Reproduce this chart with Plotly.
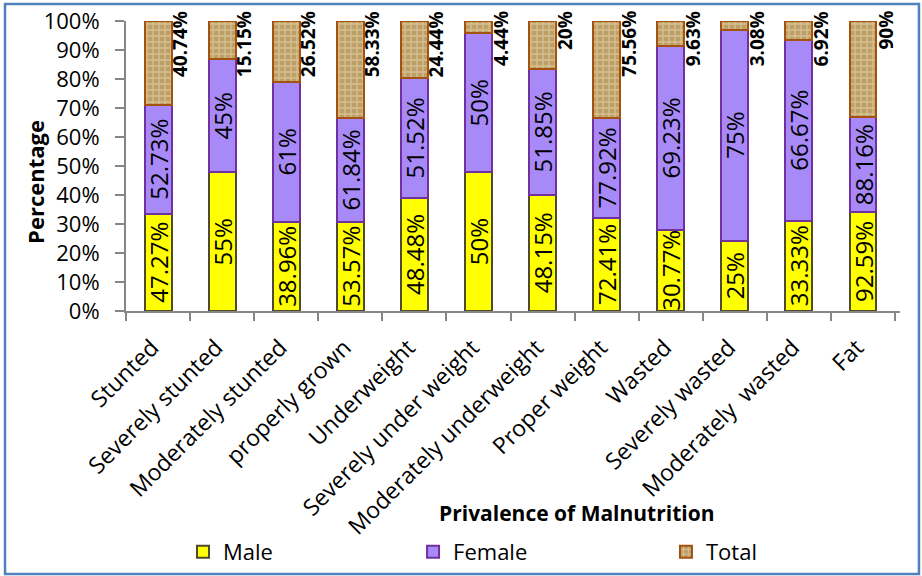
import plotly.graph_objects as go

categories = ["Stunted", "Severely stunted", "Moderately stunted", "properly grown",
              "Underweight", "Severely under weight", "Moderately underweight",
              "Proper weight", "Wasted", "Severely wasted", "Moderately  wasted", "Fat"]
male = [47.27, 55, 38.96, 53.57, 48.48, 50, 48.15, 72.41, 30.77, 25, 33.33, 92.59]
female = [52.73, 45, 61, 61.84, 51.52, 50, 51.85, 77.92, 69.23, 75, 66.67, 88.16]
total = [40.74, 15.15, 26.52, 58.33, 24.44, 4.44, 20, 75.56, 9.63, 3.08, 6.92, 90]

FONT = "Open Sans"

def fmt(v):
    return f"{v:g}%"

fig = go.Figure()
fig.add_trace(go.Bar(
    name="Male", x=categories, y=male, legend="legend",
    text=[fmt(v) for v in male], textposition="inside", insidetextanchor="middle",
    textangle=-90, constraintext="none",
    textfont=dict(family=FONT, size=24, color="black"),
    marker=dict(color="#FFFF00", line=dict(color="#4f4a2a", width=2)),
))
fig.add_trace(go.Bar(
    name="Female", x=categories, y=female, legend="legend2",
    text=[fmt(v) for v in female], textposition="inside", insidetextanchor="middle",
    textangle=-90, constraintext="none",
    textfont=dict(family=FONT, size=24, color="black"),
    marker=dict(color="#a889f8", line=dict(color="#7030a0", width=2)),
))
fig.add_trace(go.Bar(
    name="Total", x=categories, y=total, legend="legend3",
    textposition="none",
    marker=dict(color="#c4a66f", line=dict(color="#a3520f", width=2),
                pattern=dict(shape="+", fgcolor="#eedfb6", bgcolor="#bd9f68",
                             size=6, solidity=0.4)),
))

annotations = []
for c, v in zip(categories, total):
    annotations.append(dict(
        x=c, y=100, xref="x", yref="y", text=f"<b>{fmt(v)}</b>",
        textangle=-90, xanchor="left", yanchor="top", xshift=7, yshift=12,
        showarrow=False, font=dict(family=FONT, size=19, color="black")))

annotations.append(dict(
    x=-0.1176, y=0.445, xref="paper", yref="paper", text="<b>Percentage</b>",
    textangle=-90, showarrow=False, xanchor="center", yanchor="middle",
    font=dict(family=FONT, size=22, color="black")))
annotations.append(dict(
    x=0.583, y=-0.697, xref="paper", yref="paper", text="<b>Privalence of Malnutrition</b>",
    showarrow=False, xanchor="center", yanchor="middle",
    font=dict(family=FONT, size=21, color="black")))

def leg(x):
    return dict(orientation="h", xref="container", yref="container",
                x=x, y=0.0417, xanchor="left", yanchor="middle",
                font=dict(family=FONT, size=22), bgcolor="rgba(0,0,0,0)")

fig.update_layout(
    barmode="stack", barnorm="percent", bargap=0.58,
    width=922, height=576,
    margin=dict(l=126, r=22, t=21, b=265, autoexpand=False),
    paper_bgcolor="white", plot_bgcolor="white",
    font=dict(family=FONT, size=20, color="black"),
    showlegend=True,
    legend=leg(0.1985), legend2=leg(0.448), legend3=leg(0.7223),
    annotations=annotations,
    shapes=[dict(type="rect", xref="paper", yref="paper",
                 x0=-0.1563, x1=1.0245, y0=-0.9069, y1=1.0586,
                 line=dict(color="#4f81bd", width=2.5), fillcolor="rgba(0,0,0,0)")],
)
fig.update_yaxes(range=[0, 100], dtick=10, ticksuffix="%", showgrid=False,
                 showline=True, linecolor="#868686", linewidth=2,
                 ticks="outside", ticklen=9, tickcolor="#868686", tickwidth=2,
                 ticklabelstandoff=11,
                 tickfont=dict(family=FONT, size=22), zeroline=False, automargin=False)
fig.update_xaxes(tickangle=-45, tickson="boundaries", ticks="outside", ticklen=8,
                 tickcolor="#868686", tickwidth=2, showline=True, linecolor="#868686",
                 linewidth=2, ticklabelstandoff=12, ticklabelshift=-6,
                 tickfont=dict(family=FONT, size=23), automargin=False)

fig.write_html("out.html", config={"displayModeBar": False},
               post_script="document.body.style.margin='0px';document.body.style.overflow='hidden';")
